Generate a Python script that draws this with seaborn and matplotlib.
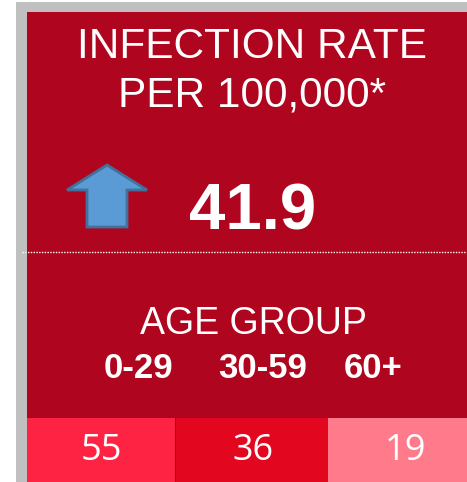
import matplotlib
matplotlib.use("Agg")
import matplotlib.pyplot as plt
from matplotlib.colors import ListedColormap
from matplotlib.patches import Rectangle, FancyArrow
import seaborn as sns
import numpy as np

title_lines = ["INFECTION RATE", "PER 100,000*"]
rate = 41.9
age_label = "AGE GROUP"
age_groups = ["0-29", "30-59", "60+"]
age_values = [55, 36, 19]
cell_colors = ["#FF2343", "#E2061F", "#FF7B8B"]

bg_red = "#B0051E"
frame_gray = "#C0C0C0"

sns.set_theme(style="white")
plt.rcParams["font.family"] = ["Liberation Sans", "DejaVu Sans"]

fig = plt.figure(figsize=(4.67, 4.82), dpi=100)
ax = fig.add_axes([0, 0, 1, 1])
ax.set_xlim(0, 467)
ax.set_ylim(482, 0)
ax.axis("off")

# frame and panel
ax.add_patch(Rectangle((16, 2), 451, 480, color=frame_gray, lw=0))
ax.add_patch(Rectangle((27, 12), 440, 470, color=bg_red, lw=0))

ax.text(252, 47, title_lines[0], color="white", fontsize=30.5, ha="center", va="center")
ax.text(252, 96, title_lines[1], color="white", fontsize=30.5, ha="center", va="center")

# up arrow
ax.add_patch(FancyArrow(107, 227, 0, -62, width=40, head_width=80, head_length=25,
                        length_includes_head=True, fc="#5B9BD5", ec="#41719C", lw=2))

ax.text(253, 212, f"{rate}", color="white", fontsize=47, fontweight="bold",
        ha="center", va="center")

ax.plot([22, 467], [252, 252], color="white", lw=1, ls=(0, (1, 1)))

ax.text(253, 324, age_label, color="white", fontsize=27, ha="center", va="center")
for x, g in zip([138, 263, 373], age_groups):
    ax.text(x, 369, g, color="white", fontsize=25, fontweight="bold", ha="center", va="center")

# bottom cells, one heatmap cell per age group
edges = [27, 175, 328, 467]
x_shift = [0, 0.01, 0.058]
for i, (v, c) in enumerate(zip(age_values, cell_colors)):
    hax = fig.add_axes([edges[i] / 467, 0, (edges[i + 1] - edges[i]) / 467, 64 / 482])
    sns.heatmap(np.array([[v]]), cmap=ListedColormap([c]), cbar=False,
                annot=True, fmt="d",
                annot_kws={"color": "white", "fontsize": 26,
                           "family": ["Open Sans", "DejaVu Sans"]},
                linewidths=0, ax=hax, xticklabels=False, yticklabels=False)
    for t in hax.texts:
        px, py = t.get_position()
        t.set_position((px + x_shift[i], py + 0.02))
    if i == 1:
        hax.axvline(0, color="#9A0418", lw=1.2)

fig.savefig("out.png", dpi=100)
